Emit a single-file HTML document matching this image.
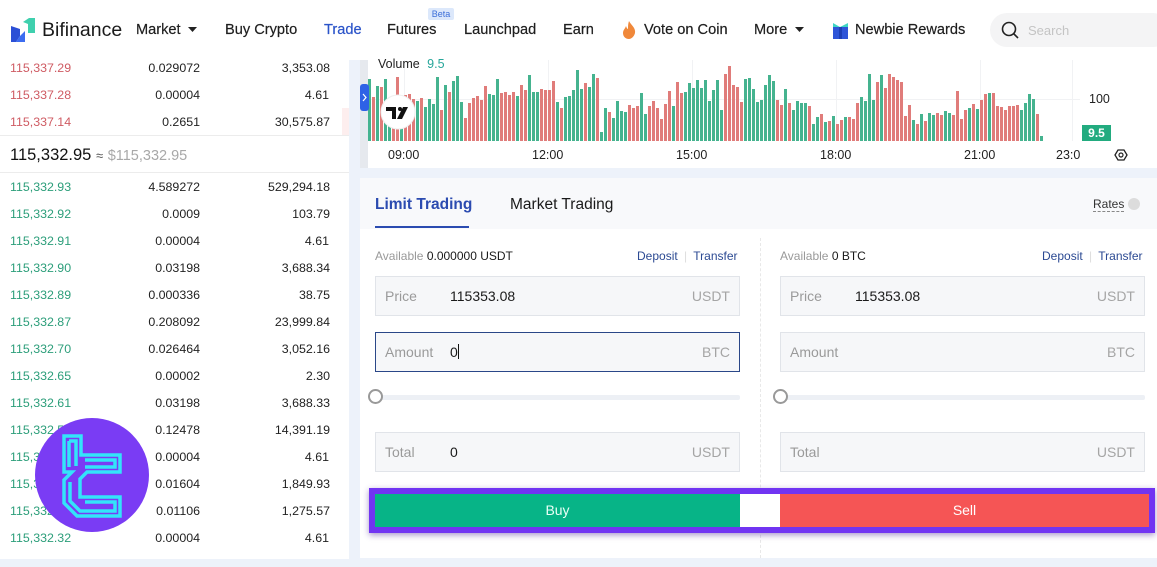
<!DOCTYPE html>
<html><head><meta charset="utf-8"><style>
*{margin:0;padding:0;box-sizing:border-box}
body{width:1157px;height:567px;overflow:hidden;background:#edf2fa;font-family:"Liberation Sans",sans-serif;position:relative;color:#222}
.a{position:absolute;white-space:nowrap}
.nav{font-size:14.6px;line-height:18px;top:21px;color:#1e1e1e;-webkit-text-stroke:0.2px #1e1e1e}
.ob{font-size:12.4px;line-height:16px}
.r{color:#cf5b63}.g{color:#2c9e7a}
.box{position:absolute;height:40px;background:#f6f7f9;border:1px solid #e1e4e9}
.lbl{position:absolute;top:11px;font-size:14px;color:#9a9a9a;line-height:16px}
.val{position:absolute;top:11px;font-size:14px;color:#1a1a1a;line-height:16px}
.unit{position:absolute;right:9px;top:11px;font-size:14px;color:#a5a5a5;line-height:16px}
.sm{font-size:12px;line-height:14px}
</style></head><body>
<!-- header -->
<div class="a" style="left:0;top:0;width:1157px;height:60px;background:#fff"></div>
<svg class="a" style="left:8px;top:16px" width="32" height="28" viewBox="0 0 32 28">
<polygon points="3,10 12,13 12,20 8,26 3,26" fill="#2b4fd6"/>
<polygon points="12,20 17,15 17,26 8,26" fill="#3c6cf0"/>
<polygon points="15,6 21,2 27,2 27,17 20,17 20,8" fill="#3fd0ae"/>
</svg>
<div class="a" style="left:42px;top:18px;font-size:19.5px;line-height:24px;color:#1a1a1a">Bifinance</div>
<div class="a nav" style="left:136px">Market</div>
<svg class="a" style="left:188px;top:27px" width="10" height="6"><polygon points="0,0 9,0 4.5,5" fill="#222"/></svg>
<div class="a nav" style="left:225px">Buy Crypto</div>
<div class="a nav" style="left:324px;color:#2b54c9;-webkit-text-stroke:0.2px #2b54c9">Trade</div>
<div class="a nav" style="left:387px">Futures</div>
<div class="a" style="left:428px;top:8px;width:26px;height:12px;background:#dce8fb;border-radius:2px;font-size:9px;line-height:12px;color:#3d6fd8;text-align:center">Beta</div>
<div class="a nav" style="left:464px">Launchpad</div>
<div class="a nav" style="left:563px">Earn</div>
<svg class="a" style="left:622px;top:21px" width="15" height="18" viewBox="0 0 15 18"><path d="M7,0 C9,4 14,7 13,12 C12,16 9,18 7,18 C3,18 1,15 1,12 C1,9 3,8 4,5 C5,8 6,8 6,8 C6,5 6,3 7,0Z" fill="#f0883a"/></svg>
<div class="a nav" style="left:644px">Vote on Coin</div>
<div class="a nav" style="left:754px">More</div>
<svg class="a" style="left:795px;top:27px" width="10" height="6"><polygon points="0,0 9,0 4.5,5" fill="#222"/></svg>
<svg class="a" style="left:832px;top:21px" width="17" height="18" viewBox="0 0 17 18"><polygon points="1,2 8,6 16,2 16,6 1,6" fill="#3fd6c4"/><rect x="1" y="6" width="15" height="12" fill="#2e55d8"/><rect x="7" y="6" width="3" height="12" fill="#1d3fb5"/></svg>
<div class="a nav" style="left:855px">Newbie Rewards</div>
<div class="a" style="left:990px;top:13px;width:180px;height:34px;background:#f4f4f5;border-radius:17px"></div>
<svg class="a" style="left:1001px;top:21px" width="20" height="20"><circle cx="8" cy="8" r="6.5" stroke="#222" stroke-width="1.6" fill="none"/><line x1="13" y1="13" x2="17" y2="17" stroke="#222" stroke-width="1.6"/></svg>
<div class="a" style="left:1028px;top:23px;font-size:13px;line-height:16px;color:#c4c4c4">Search</div>

<!-- order book -->
<div class="a" style="left:0;top:60px;width:349px;height:499px;background:#fff"></div>
<div class="a" style="left:342px;top:108px;width:7px;height:27px;background:#fdeeee"></div>
<div class="a" style="left:0;top:135px;width:349px;height:1px;background:#ececec"></div>
<div class="a" style="left:0;top:172px;width:349px;height:1px;background:#ececec"></div>

<div class="a ob r" style="left:10px;top:60px">115,337.29</div><div class="a ob" style="right:957px;top:60px">0.029072</div><div class="a ob" style="right:827px;top:60px">3,353.08</div>
<div class="a ob r" style="left:10px;top:87px">115,337.28</div><div class="a ob" style="right:957px;top:87px">0.00004</div><div class="a ob" style="right:828px;top:87px">4.61</div>
<div class="a ob r" style="left:10px;top:114px">115,337.14</div><div class="a ob" style="right:957px;top:114px">0.2651</div><div class="a ob" style="right:827px;top:114px">30,575.87</div>

<div class="a" style="left:10px;top:145px;font-size:16.5px;line-height:20px;color:#111">115,332.95 <span style="font-size:13px;color:#555">≈</span> <span style="font-size:14.5px;color:#a8a8a8">$115,332.95</span></div>

<div class="a ob g" style="left:10px;top:179px">115,332.93</div><div class="a ob" style="right:957px;top:179px">4.589272</div><div class="a ob" style="right:827px;top:179px">529,294.18</div>
<div class="a ob g" style="left:10px;top:206px">115,332.92</div><div class="a ob" style="right:957px;top:206px">0.0009</div><div class="a ob" style="right:827px;top:206px">103.79</div>
<div class="a ob g" style="left:10px;top:233px">115,332.91</div><div class="a ob" style="right:957px;top:233px">0.00004</div><div class="a ob" style="right:828px;top:233px">4.61</div>
<div class="a ob g" style="left:10px;top:260px">115,332.90</div><div class="a ob" style="right:957px;top:260px">0.03198</div><div class="a ob" style="right:827px;top:260px">3,688.34</div>
<div class="a ob g" style="left:10px;top:287px">115,332.89</div><div class="a ob" style="right:957px;top:287px">0.000336</div><div class="a ob" style="right:827px;top:287px">38.75</div>
<div class="a ob g" style="left:10px;top:314px">115,332.87</div><div class="a ob" style="right:957px;top:314px">0.208092</div><div class="a ob" style="right:827px;top:314px">23,999.84</div>
<div class="a ob g" style="left:10px;top:341px">115,332.70</div><div class="a ob" style="right:957px;top:341px">0.026464</div><div class="a ob" style="right:827px;top:341px">3,052.16</div>
<div class="a ob g" style="left:10px;top:368px">115,332.65</div><div class="a ob" style="right:957px;top:368px">0.00002</div><div class="a ob" style="right:827px;top:368px">2.30</div>
<div class="a ob g" style="left:10px;top:395px">115,332.61</div><div class="a ob" style="right:957px;top:395px">0.03198</div><div class="a ob" style="right:827px;top:395px">3,688.33</div>
<div class="a ob g" style="left:10px;top:422px">115,332.57</div><div class="a ob" style="right:957px;top:422px">0.12478</div><div class="a ob" style="right:827px;top:422px">14,391.19</div>
<div class="a ob g" style="left:10px;top:449px">115,332.56</div><div class="a ob" style="right:957px;top:449px">0.00004</div><div class="a ob" style="right:828px;top:449px">4.61</div>
<div class="a ob g" style="left:10px;top:476px">115,332.40</div><div class="a ob" style="right:957px;top:476px">0.01604</div><div class="a ob" style="right:827px;top:476px">1,849.93</div>
<div class="a ob g" style="left:10px;top:503px">115,332.33</div><div class="a ob" style="right:957px;top:503px">0.01106</div><div class="a ob" style="right:827px;top:503px">1,275.57</div>
<div class="a ob g" style="left:10px;top:530px">115,332.32</div><div class="a ob" style="right:957px;top:530px">0.00004</div><div class="a ob" style="right:828px;top:530px">4.61</div>

<!-- chart -->
<div class="a" style="left:360px;top:60px;width:797px;height:108px;background:#fff"></div>
<div class="a" style="left:360px;top:60px;width:8px;height:108px;background:#e6e9ee"></div>
<svg class="a" style="left:0;top:0" width="1157" height="567">
<g stroke="#f1f2f4" stroke-width="1">
<line x1="404.5" y1="60" x2="404.5" y2="141"/><line x1="548.5" y1="60" x2="548.5" y2="141"/><line x1="692.5" y1="60" x2="692.5" y2="141"/><line x1="836.5" y1="60" x2="836.5" y2="141"/><line x1="980.5" y1="60" x2="980.5" y2="141"/><line x1="1072.5" y1="60" x2="1072.5" y2="141"/>
<line x1="368" y1="99.5" x2="1080" y2="99.5"/>
</g>
<g fill="#45b38f">
<rect x="368" y="79" width="3" height="62"/><rect x="376" y="86" width="3" height="55"/><rect x="384" y="79" width="3" height="62"/><rect x="388" y="105" width="3" height="36"/><rect x="400" y="100" width="3" height="41"/><rect x="416" y="101" width="3" height="40"/><rect x="424" y="107" width="3" height="34"/><rect x="428" y="99" width="3" height="42"/><rect x="432" y="104" width="3" height="37"/><rect x="436" y="77" width="3" height="64"/><rect x="444" y="85" width="3" height="56"/><rect x="452" y="81" width="3" height="60"/><rect x="456" y="76" width="3" height="65"/><rect x="460" y="102" width="3" height="39"/><rect x="488" y="94" width="3" height="47"/><rect x="492" y="95" width="3" height="46"/><rect x="496" y="79" width="3" height="62"/><rect x="516" y="96" width="3" height="45"/><rect x="528" y="75" width="3" height="66"/><rect x="532" y="92" width="3" height="49"/><rect x="536" y="92" width="3" height="49"/><rect x="556" y="102" width="3" height="39"/><rect x="564" y="97" width="3" height="44"/><rect x="568" y="96" width="3" height="45"/><rect x="572" y="90" width="3" height="51"/><rect x="576" y="70" width="3" height="71"/><rect x="580" y="89" width="3" height="52"/><rect x="588" y="87" width="3" height="54"/><rect x="592" y="74" width="3" height="67"/><rect x="600" y="132" width="3" height="9"/><rect x="604" y="108" width="3" height="33"/><rect x="612" y="118" width="3" height="23"/><rect x="616" y="101" width="3" height="40"/><rect x="620" y="111" width="3" height="30"/><rect x="624" y="112" width="3" height="29"/><rect x="640" y="93" width="3" height="48"/><rect x="644" y="114" width="3" height="27"/><rect x="672" y="106" width="3" height="35"/><rect x="684" y="92" width="3" height="49"/><rect x="688" y="83" width="3" height="58"/><rect x="692" y="88" width="3" height="53"/><rect x="696" y="80" width="3" height="61"/><rect x="700" y="88" width="3" height="53"/><rect x="704" y="80" width="3" height="61"/><rect x="708" y="101" width="3" height="40"/><rect x="712" y="90" width="3" height="51"/><rect x="716" y="80" width="3" height="61"/><rect x="720" y="110" width="3" height="31"/><rect x="744" y="79" width="3" height="62"/><rect x="748" y="78" width="3" height="63"/><rect x="752" y="89" width="3" height="52"/><rect x="756" y="102" width="3" height="39"/><rect x="760" y="100" width="3" height="41"/><rect x="764" y="85" width="3" height="56"/><rect x="768" y="75" width="3" height="66"/><rect x="772" y="81" width="3" height="60"/><rect x="784" y="89" width="3" height="52"/><rect x="792" y="110" width="3" height="31"/><rect x="796" y="101" width="3" height="40"/><rect x="800" y="103" width="3" height="38"/><rect x="804" y="103" width="3" height="38"/><rect x="812" y="124" width="3" height="17"/><rect x="816" y="117" width="3" height="24"/><rect x="824" y="122" width="3" height="19"/><rect x="832" y="116" width="3" height="25"/><rect x="844" y="117" width="3" height="24"/><rect x="860" y="97" width="3" height="44"/><rect x="864" y="101" width="3" height="40"/><rect x="868" y="74" width="3" height="67"/><rect x="872" y="100" width="3" height="41"/><rect x="880" y="75" width="3" height="66"/><rect x="912" y="120" width="3" height="21"/><rect x="920" y="114" width="3" height="27"/><rect x="928" y="113" width="3" height="28"/><rect x="932" y="115" width="3" height="26"/><rect x="944" y="111" width="3" height="30"/><rect x="948" y="113" width="3" height="28"/><rect x="968" y="108" width="3" height="33"/><rect x="976" y="109" width="3" height="32"/><rect x="988" y="93" width="3" height="48"/><rect x="1020" y="110" width="3" height="31"/><rect x="1024" y="103" width="3" height="38"/><rect x="1028" y="94" width="3" height="47"/><rect x="1032" y="99" width="3" height="42"/><rect x="1040" y="136" width="3" height="5"/>
</g>
<g fill="#e07c7a">
<rect x="372" y="97" width="3" height="44"/><rect x="380" y="87" width="3" height="54"/><rect x="392" y="108" width="3" height="33"/><rect x="396" y="77" width="3" height="64"/><rect x="404" y="95" width="3" height="46"/><rect x="408" y="94" width="3" height="47"/><rect x="412" y="99" width="3" height="42"/><rect x="420" y="98" width="3" height="43"/><rect x="440" y="110" width="3" height="31"/><rect x="448" y="92" width="3" height="49"/><rect x="464" y="118" width="3" height="23"/><rect x="468" y="103" width="3" height="38"/><rect x="472" y="98" width="3" height="43"/><rect x="476" y="96" width="3" height="45"/><rect x="480" y="100" width="3" height="41"/><rect x="484" y="86" width="3" height="55"/><rect x="500" y="93" width="3" height="48"/><rect x="504" y="92" width="3" height="49"/><rect x="508" y="95" width="3" height="46"/><rect x="512" y="92" width="3" height="49"/><rect x="520" y="85" width="3" height="56"/><rect x="524" y="90" width="3" height="51"/><rect x="540" y="89" width="3" height="52"/><rect x="544" y="90" width="3" height="51"/><rect x="548" y="90" width="3" height="51"/><rect x="552" y="81" width="3" height="60"/><rect x="560" y="108" width="3" height="33"/><rect x="584" y="83" width="3" height="58"/><rect x="596" y="78" width="3" height="63"/><rect x="608" y="112" width="3" height="29"/><rect x="628" y="105" width="3" height="36"/><rect x="632" y="108" width="3" height="33"/><rect x="636" y="106" width="3" height="35"/><rect x="648" y="106" width="3" height="35"/><rect x="652" y="101" width="3" height="40"/><rect x="656" y="108" width="3" height="33"/><rect x="660" y="119" width="3" height="22"/><rect x="664" y="104" width="3" height="37"/><rect x="668" y="91" width="3" height="50"/><rect x="676" y="82" width="3" height="59"/><rect x="680" y="93" width="3" height="48"/><rect x="724" y="74" width="3" height="67"/><rect x="728" y="66" width="3" height="75"/><rect x="732" y="85" width="3" height="56"/><rect x="736" y="87" width="3" height="54"/><rect x="740" y="102" width="3" height="39"/><rect x="776" y="100" width="3" height="41"/><rect x="780" y="105" width="3" height="36"/><rect x="788" y="103" width="3" height="38"/><rect x="808" y="106" width="3" height="35"/><rect x="820" y="114" width="3" height="27"/><rect x="828" y="121" width="3" height="20"/><rect x="836" y="124" width="3" height="17"/><rect x="840" y="120" width="3" height="21"/><rect x="848" y="117" width="3" height="24"/><rect x="852" y="119" width="3" height="22"/><rect x="856" y="103" width="3" height="38"/><rect x="876" y="82" width="3" height="59"/><rect x="884" y="88" width="3" height="53"/><rect x="888" y="74" width="3" height="67"/><rect x="892" y="77" width="3" height="64"/><rect x="896" y="80" width="3" height="61"/><rect x="900" y="82" width="3" height="59"/><rect x="904" y="116" width="3" height="25"/><rect x="908" y="105" width="3" height="36"/><rect x="916" y="124" width="3" height="17"/><rect x="924" y="121" width="3" height="20"/><rect x="936" y="113" width="3" height="28"/><rect x="940" y="115" width="3" height="26"/><rect x="952" y="115" width="3" height="26"/><rect x="956" y="91" width="3" height="50"/><rect x="960" y="119" width="3" height="22"/><rect x="964" y="110" width="3" height="31"/><rect x="972" y="104" width="3" height="37"/><rect x="980" y="100" width="3" height="41"/><rect x="984" y="94" width="3" height="47"/><rect x="992" y="93" width="3" height="48"/><rect x="996" y="106" width="3" height="35"/><rect x="1000" y="107" width="3" height="34"/><rect x="1004" y="110" width="3" height="31"/><rect x="1008" y="106" width="3" height="35"/><rect x="1012" y="106" width="3" height="35"/><rect x="1016" y="105" width="3" height="36"/><rect x="1036" y="114" width="3" height="27"/>
</g>
<!-- TV logo -->
<circle cx="398" cy="112" r="17" fill="#fff" stroke="#eee" stroke-width="1"/>
<path d="M386,107 H396 V119 H392 V111 H386Z" fill="#111"/>
<circle cx="400" cy="109" r="2" fill="#111"/>
<path d="M403,107 H408 L402,119 H397Z" fill="#111"/>
<!-- side tab -->
<rect x="360" y="84" width="9" height="27" rx="3" fill="#2e62e6"/>
<path d="M363,94 L366,97.5 L363,101" stroke="#fff" stroke-width="1.2" fill="none"/>
<!-- gear -->
<polygon points="1115,155 1118,150 1124,150 1127,155 1124,160 1118,160" fill="none" stroke="#222" stroke-width="1.3"/>
<circle cx="1121" cy="155" r="2" fill="none" stroke="#222" stroke-width="1.2"/>
</svg>
<div class="a" style="left:378px;top:57px;font-size:12.5px;line-height:15px;color:#222">Volume <span style="color:#26a69a;margin-left:4px">9.5</span></div>
<div class="a" style="left:1089px;top:92px;font-size:12.5px;line-height:14px;color:#222">100</div>
<div class="a" style="left:1082px;top:125px;width:29px;height:16px;background:#22ab7f;color:#fff;font-size:12px;font-weight:bold;line-height:16px;text-align:center">9.5</div>
<div class="a" style="left:388px;top:148px;font-size:12.5px;line-height:15px;color:#222">09:00</div>
<div class="a" style="left:532px;top:148px;font-size:12.5px;line-height:15px;color:#222">12:00</div>
<div class="a" style="left:676px;top:148px;font-size:12.5px;line-height:15px;color:#222">15:00</div>
<div class="a" style="left:820px;top:148px;font-size:12.5px;line-height:15px;color:#222">18:00</div>
<div class="a" style="left:964px;top:148px;font-size:12.5px;line-height:15px;color:#222">21:00</div>
<div class="a" style="left:1056px;top:148px;font-size:12.5px;line-height:15px;color:#222">23:0</div>

<!-- trade panel -->
<div class="a" style="left:360px;top:178px;width:797px;height:380px;background:#fff"></div>
<div class="a" style="left:360px;top:178px;width:797px;height:51px;background:#f8f9fb"></div>
<div class="a" style="left:375px;top:195px;font-size:15.5px;line-height:19px;font-weight:bold;color:#2b4bb0">Limit Trading</div>
<div class="a" style="left:375px;top:226px;width:94px;height:2px;background:#2b4bb0"></div>
<div class="a" style="left:510px;top:195px;font-size:15.5px;line-height:19px;color:#1a1a1a">Market Trading</div>
<div class="a" style="left:1093px;top:197px;font-size:12px;line-height:14px;color:#333;border-bottom:1px dashed #888">Rates</div>
<div class="a" style="left:1128px;top:198px;width:12px;height:12px;border-radius:6px;background:#dcdcdc"></div>
<div class="a" style="left:760px;top:238px;width:0;height:320px;border-left:1px dashed #e8e8e8"></div>

<div class="a sm" style="left:375px;top:249px;color:#9a9a9a">Available <span style="color:#1a1a1a">0.000000 USDT</span></div>
<div class="a sm" style="left:637px;top:249px;color:#2c4a93">Deposit <span style="color:#ddd;margin:0 3px">|</span> Transfer</div>
<div class="a sm" style="left:780px;top:249px;color:#9a9a9a">Available <span style="color:#1a1a1a">0 BTC</span></div>
<div class="a sm" style="left:1042px;top:249px;color:#2c4a93">Deposit <span style="color:#ddd;margin:0 3px">|</span> Transfer</div>

<div class="box" style="left:375px;top:276px;width:365px"><span class="lbl" style="left:9px">Price</span><span class="val" style="left:74px">115353.08</span><span class="unit">USDT</span></div>
<div class="box" style="left:375px;top:332px;width:365px;border-color:#2a4788"><span class="lbl" style="left:9px">Amount</span><span class="val" style="left:74px">0<span style="display:inline-block;width:1px;height:15px;background:#111;vertical-align:-2px"></span></span><span class="unit">BTC</span></div>
<div class="box" style="left:375px;top:432px;width:365px"><span class="lbl" style="left:9px">Total</span><span class="val" style="left:74px">0</span><span class="unit">USDT</span></div>

<div class="box" style="left:780px;top:276px;width:365px"><span class="lbl" style="left:9px">Price</span><span class="val" style="left:74px">115353.08</span><span class="unit">USDT</span></div>
<div class="box" style="left:780px;top:332px;width:365px"><span class="lbl" style="left:9px">Amount</span><span class="unit">BTC</span></div>
<div class="box" style="left:780px;top:432px;width:365px"><span class="lbl" style="left:9px">Total</span><span class="unit">USDT</span></div>

<div class="a" style="left:380px;top:395px;width:360px;height:5px;background:#edf0f5;border-radius:2px"></div>
<div class="a" style="left:368px;top:389px;width:15px;height:15px;border-radius:8px;border:2px solid #999;background:#fff"></div>
<div class="a" style="left:785px;top:395px;width:360px;height:5px;background:#edf0f5;border-radius:2px"></div>
<div class="a" style="left:773px;top:389px;width:15px;height:15px;border-radius:8px;border:2px solid #999;background:#fff"></div>

<!-- buttons with purple highlight -->
<div class="a" style="left:369px;top:488px;width:786px;height:45px;border:6px solid #7134f2;box-shadow:0 2px 6px rgba(60,20,140,0.45);background:#fff"></div>
<div class="a" style="left:375px;top:494px;width:365px;height:33px;background:#07b487;color:#eafff7;font-size:14px;line-height:33px;text-align:center">Buy</div>
<div class="a" style="left:780px;top:494px;width:369px;height:33px;background:#f55555;color:#fff;font-size:14px;line-height:33px;text-align:center">Sell</div>

<!-- overlay logo -->
<svg class="a" style="left:0;top:380px" width="160" height="187" viewBox="0 380 160 187">
<circle cx="92" cy="475" r="57" fill="#7a3cf4"/>
<g fill="none" stroke="#33e4fa" stroke-width="3.5" stroke-linejoin="miter">
<path d="M64,436 H81 V455 H120 V472 H87 L80,479 V497 H120 V516 H77 L64,503 V480 L72,472 H64 Z"/>
<path d="M69,441 H76 V466 M69,441 V467 M85,460 H115 V467 H85 M85,502 H115 V511 H80 L70,501 V482"/>
</g>
</svg>
</body></html>
